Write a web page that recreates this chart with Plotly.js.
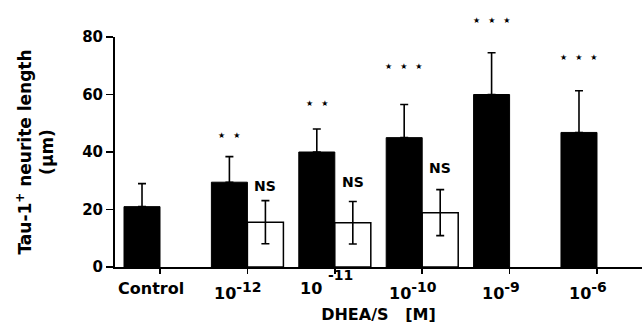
<!DOCTYPE html>
<html><head><meta charset="utf-8">
<script src="https://cdn.plot.ly/plotly-3.0.1.min.js"></script>
<style>html,body{margin:0;padding:0;background:#fff}#c{width:643px;height:328px}</style>
</head><body><div id="c"></div>
<script>
// Data
const categories = ["Control", "1e-12", "1e-11", "1e-10", "1e-9", "1e-6"];
const tickLabels = ["Control", "10<sup>-12</sup>", "10<sup>-11</sup>", "10<sup>-10</sup>", "10<sup>-9</sup>", "10<sup>-6</sup>"];
const dheaMean = [21, 29.5, 40, 45, 60, 46.8];
const dheaErr = [8, 8.9, 8, 11.5, 14.5, 14.5];
const otherMean = [null, 15.6, 15.4, 18.9, null, null];
const otherErr = [null, 7.5, 7.4, 8, null, null];
const dheaSig = ["", "★ ★", "★ ★", "★ ★ ★", "★ ★ ★", "★ ★ ★"];
const dheaSigY = [null, 45.9, 56.7, 69.6, 85.9, 72.7];
const otherSig = ["", "NS", "NS", "NS", "", ""];
const otherSigY = [null, 28.2, 29.4, 34.4, null, null];

const F = "DejaVu Sans, Liberation Sans, Arial, sans-serif";
const Y_MAX = 80;

// enlarge superscripts (the reference prints them nearly full size)
const bigSup = s => s.replace(/<sup>(.*?)<\/sup>/, '<sup><span style="font-size:14px">$1</span></sup>');

const traces = [
  {type: "bar", x: categories, y: dheaMean, name: "DHEA/S",
   marker: {color: "#000", line: {color: "#000", width: 1}},
   error_y: {type: "data", array: dheaErr, arrayminus: dheaErr.map(() => 0), color: "#000", thickness: 1.6, width: 4}},
  {type: "bar", x: categories, y: otherMean, name: "other",
   marker: {color: "#fff", line: {color: "#000", width: 1.5}},
   error_y: {type: "data", array: otherErr, symmetric: true, color: "#000", thickness: 1.6, width: 4}}
];

const ann = [];
categories.forEach((c, i) => {
  if (dheaSig[i]) ann.push({x: i, y: dheaSigY[i] / Y_MAX, xref: "x", yref: "paper", xshift: -18,
    xanchor: "center", yanchor: "middle",
    text: dheaSig[i].split(" ").join("\u2003"), showarrow: false,
    font: {family: "DejaVu Sans", size: 8, color: "#000"}});
  if (otherSig[i]) ann.push({x: i, y: otherSigY[i], xref: "x", yref: "y", xshift: 18,
    xanchor: "center", yanchor: "middle",
    text: otherSig[i], showarrow: false,
    font: {family: F, size: 14, color: "#000", weight: 700}});
  // tick labels
  if (i === 2) {
    ann.push({x: i, y: 0, xref: "x", yref: "y", yanchor: "top", xshift: -24, yshift: -10,
      text: "10", showarrow: false, font: {family: F, size: 16, color: "#000", weight: 700}});
    ann.push({x: i, y: 0, xref: "x", yref: "y", yanchor: "top", xshift: 6, yshift: 2,
      text: "-11", showarrow: false, font: {family: F, size: 14, color: "#000", weight: 700}});
  } else {
    ann.push({x: i, y: 0, xref: "x", yref: "y", yanchor: "top", xshift: -9, yshift: -10,
      text: bigSup(tickLabels[i]), showarrow: false, font: {family: F, size: 16, color: "#000", weight: 700}});
  }
});

const layout = {
  width: 643, height: 328,
  margin: {l: 115, r: 1, t: 37, b: 61},
  paper_bgcolor: "#fff", plot_bgcolor: "#fff",
  showlegend: false,
  barmode: "group", bargap: 0.176, bargroupgap: 0,
  font: {family: F, color: "#000"},
  xaxis: {type: "category", range: [-0.515, 5.515], showgrid: false, zeroline: false,
    showline: true, linecolor: "#000", linewidth: 2,
    ticks: "outside", ticklen: 5, tickwidth: 1.5, tickcolor: "#000", showticklabels: false,
    title: {text: "DHEA/S\u00a0\u00a0\u00a0[M]", font: {family: F, size: 16, weight: 700, color: "#000"}, standoff: 36}},
  yaxis: {range: [0, Y_MAX], tickvals: [0, 20, 40, 60, 80], showgrid: false, zeroline: false,
    showline: true, linecolor: "#000", linewidth: 2,
    ticks: "outside", ticklen: 7, tickwidth: 1.5, tickcolor: "#000",
    tickfont: {family: F, size: 15, weight: 700, color: "#000"},
    title: {text: "Tau-1<sup>+</sup> neurite length<br>(µm)", font: {family: F, size: 17, weight: 700, color: "#000"}, standoff: 24}},
  annotations: ann
};

Plotly.newPlot("c", traces, layout, {displayModeBar: false, staticPlot: true});
</script></body></html>
